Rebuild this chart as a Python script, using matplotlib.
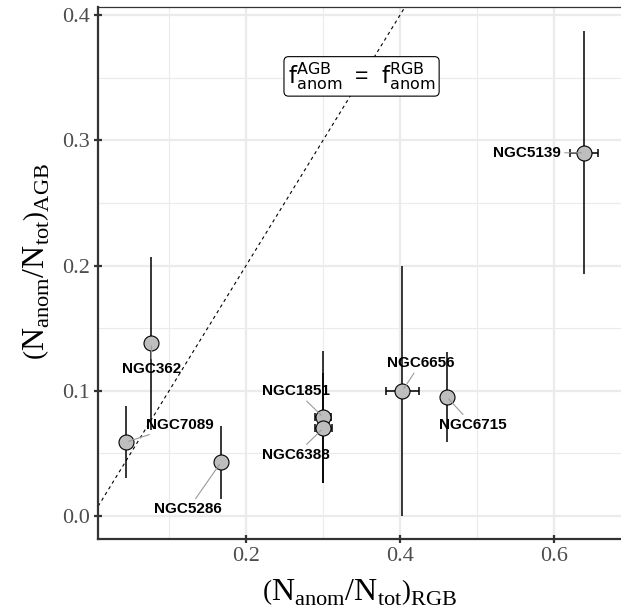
import matplotlib
matplotlib.use("Agg")
import matplotlib.pyplot as plt

plt.rcParams['mathtext.fontset'] = 'custom'
plt.rcParams['mathtext.rm'] = 'Liberation Serif'
plt.rcParams['mathtext.it'] = 'Liberation Serif:italic'
plt.rcParams['mathtext.bf'] = 'Liberation Serif:bold'

clusters = ["NGC5139", "NGC362", "NGC7089", "NGC5286", "NGC1851", "NGC6388", "NGC6656", "NGC6715"]
f_rgb = [0.639, 0.077, 0.044, 0.1675, 0.300, 0.300, 0.403, 0.461]
f_rgb_err = [0.018, 0.0, 0.0, 0.0, 0.0105, 0.011, 0.021, 0.005]
f_agb = [0.290, 0.138, 0.059, 0.043, 0.079, 0.070, 0.100, 0.095]
f_agb_err = [0.097, 0.069, 0.029, 0.029, 0.053, 0.044, 0.100, 0.036]
label_x = [0.565, 0.077, 0.1135, 0.125, 0.265, 0.265, 0.427, 0.494]
label_y = [0.290, 0.117, 0.0728, 0.0056, 0.100, 0.049, 0.1224, 0.0728]

fig = plt.figure(figsize=(6.21, 6.14), dpi=100)
ax = fig.add_axes([0.158, 0.122, 0.842, 0.8666])
ax.set_xlim(0.0078, 0.687)
ax.set_ylim(-0.0184, 0.4064)

ax.set_xticks([0.2, 0.4, 0.6])
ax.set_xticks([0.1, 0.3, 0.5], minor=True)
ax.set_yticks([0.0, 0.1, 0.2, 0.3, 0.4])
ax.set_yticks([0.05, 0.15, 0.25, 0.35], minor=True)
ax.set_xticklabels(["0.2", "0.4", "0.6"])
ax.set_yticklabels(["0.0", "0.1", "0.2", "0.3", "0.4"])
ax.grid(which='major', color='#EBEBEB', lw=1.6, zorder=0)
ax.grid(which='minor', color='#EBEBEB', lw=0.8, zorder=0)
ax.set_axisbelow(True)

for lab in ax.get_xticklabels() + ax.get_yticklabels():
    lab.set_family('Liberation Serif')
    lab.set_fontsize(16)
    lab.set_color('#4D4D4D')
ax.tick_params(which='major', direction='inout', length=6, width=1.6, color='#333333', pad=3)
ax.tick_params(which='minor', length=0)

for s in ['left', 'bottom']:
    ax.spines[s].set_color('#333333')
    ax.spines[s].set_linewidth(1.6)
ax.spines['top'].set_color('#333333')
ax.spines['top'].set_linewidth(0.9)
ax.spines['right'].set_visible(False)

# identity line
ax.axline((0, 0), slope=1, color='black', lw=0.8, linestyle=(0, (3, 3)), zorder=1)

# error bars
ax.errorbar(f_rgb, f_agb, yerr=f_agb_err, fmt='none', ecolor='black', elinewidth=1.1, capsize=0, zorder=2)
ax.errorbar(f_rgb, f_agb, xerr=f_rgb_err, fmt='none', ecolor='black', elinewidth=1.1, capsize=3, capthick=1.1, zorder=2)
ax.plot(f_rgb, f_agb, 'o', ms=10.8, mfc='#BEBEBE', mec='black', mew=0.8, zorder=3, ls='none')

for name, px, py, lx, ly in zip(clusters, f_rgb, f_agb, label_x, label_y):
    ax.annotate(name, xy=(px, py), xytext=(lx, ly), ha='center', va='center',
                fontsize=11, fontweight='bold', family='Liberation Sans', color='black',
                bbox=dict(boxstyle='square,pad=0.15', fc='none', ec='none'),
                arrowprops=dict(arrowstyle='-', color='#9A9A9A', lw=0.8, shrinkA=1, shrinkB=2),
                zorder=4)

ax.text(0.35, 0.351, r'$\mathrm{f}_{\mathrm{anom}}^{\mathrm{AGB}}$  =  $\mathrm{f}_{\mathrm{anom}}^{\mathrm{RGB}}$',
        ha='center', va='center', fontsize=16.5, family='Liberation Sans', math_fontfamily='dejavusans',
        bbox=dict(boxstyle='round,pad=0.17,rounding_size=0.2', fc='white', ec='black', lw=0.8), zorder=5)

ax.set_xlabel(r'$\left(\mathrm{N}_{\mathrm{anom}}/\mathrm{N}_{\mathrm{tot}}\right)_{\mathrm{RGB}}$', fontsize=23)
ax.set_ylabel(r'$\left(\mathrm{N}_{\mathrm{anom}}/\mathrm{N}_{\mathrm{tot}}\right)_{\mathrm{AGB}}$', fontsize=23)
ax.xaxis.set_label_coords(0.5, -0.07)
ax.yaxis.set_label_coords(-0.09, 0.522)

fig.savefig('out.png', dpi=100)
